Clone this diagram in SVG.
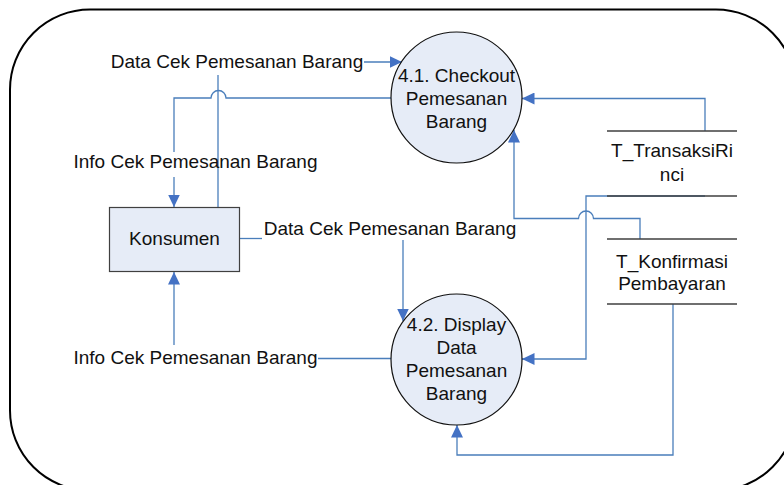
<svg xmlns="http://www.w3.org/2000/svg" width="784" height="485" viewBox="0 0 784 485">
<style>
  text { font-family: "Liberation Sans", Arial, sans-serif; font-size: 19px; fill: #111; }
  .c { text-anchor: middle; }
  .proc { fill: #E6ECF7; stroke: #111; stroke-width: 1.2; }
  .ent { fill: #E6ECF7; stroke: #404040; stroke-width: 1.2; }
  .store { stroke: #404040; stroke-width: 1.4; fill: none; }
  .flow { fill: none; stroke: #4A7EBB; stroke-width: 1.3; }
  .arr { marker-end: url(#ah); }
</style>
<defs>
  <marker id="ah" markerUnits="userSpaceOnUse" markerWidth="13" markerHeight="12" refX="12.5" refY="6" orient="auto" viewBox="0 0 13 12">
    <path d="M0,0 L12.5,6 L0,12 z" fill="#4472C4"/>
  </marker>
</defs>
<rect x="10" y="9.5" width="786" height="481" rx="80" ry="80" fill="#fff" stroke="#000" stroke-width="2"/>

<g id="connectors">
  <!-- Data Cek (Konsumen -> 4.1) -->
  <path class="flow" d="M218,207 L218,75"/>
  <path class="flow arr" d="M364,62 L402,62"/>
  <!-- Info Cek (4.1 -> Konsumen) -->
  <path class="flow" d="M391,98 L226,98 A7.5,7.5 0 0 0 211,98 L174,98 L174,152"/>
  <path class="flow arr" d="M174,177 L174,207"/>
  <!-- Data Cek (Konsumen -> 4.2) -->
  <path class="flow" d="M239.5,238.5 L262,238.5"/>
  <path class="flow arr" d="M403,240 L403,321"/>
  <!-- Info Cek (4.2 -> Konsumen) -->
  <path class="flow" d="M391,358.5 L318,358.5"/>
  <path class="flow arr" d="M174,345 L174,272"/>
  <!-- T_TransaksiRinci -> 4.1 -->
  <path class="flow arr" d="M705,131 L705,98.5 L522,98.5"/>
  <!-- T_Konfirmasi -> 4.1 -->
  <path class="flow arr" d="M640,239 L640,218.5 L593.5,218.5 A7.5,7.5 0 0 0 578.5,218.5 L514,218.5 L514,130"/>
  <!-- T_TransaksiRinci -> 4.2 -->
  <path class="flow arr" d="M705,196 L586,196 L586,359 L522,359"/>
  <!-- T_Konfirmasi -> 4.2 -->
  <path class="flow arr" d="M673,304 L673,455 L457,455 L457,425"/>
  <!-- labels -->
  <text class="c" x="237" y="68">Data Cek Pemesanan Barang</text>
  <text class="c" x="195.5" y="168">Info Cek Pemesanan Barang</text>
  <text class="c" x="390" y="235">Data Cek Pemesanan Barang</text>
  <text class="c" x="195.5" y="364">Info Cek Pemesanan Barang</text>
</g>

<g id="konsumen">
  <rect class="ent" x="109.5" y="207.5" width="130" height="64"/>
  <text class="c" x="174.5" y="245">Konsumen</text>
</g>

<g id="p41">
  <circle class="proc" cx="456.5" cy="97.5" r="65.5"/>
  <text class="c" x="456.5" y="82">4.1. Checkout</text>
  <text class="c" x="456.5" y="105">Pemesanan</text>
  <text class="c" x="456.5" y="128">Barang</text>
</g>

<g id="p42">
  <circle class="proc" cx="456.5" cy="359.5" r="65.5"/>
  <text class="c" x="456.5" y="330.5">4.2. Display</text>
  <text class="c" x="456.5" y="353.5">Data</text>
  <text class="c" x="456.5" y="376.5">Pemesanan</text>
  <text class="c" x="456.5" y="399.5">Barang</text>
</g>

<g id="t_transaksirinci">
  <path class="store" d="M607,131 L737,131 M607,196 L737,196"/>
  <text class="c" x="672" y="157">T_TransaksiRi</text>
  <text class="c" x="672" y="181">nci</text>
</g>

<g id="t_konfirmasi">
  <path class="store" d="M607,239 L737,239 M607,304 L737,304"/>
  <text class="c" x="672" y="267.5">T_Konfirmasi</text>
  <text class="c" x="672" y="290">Pembayaran</text>
</g>
</svg>
